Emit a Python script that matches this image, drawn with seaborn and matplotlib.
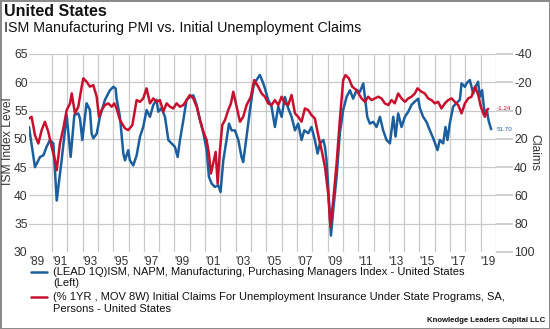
import matplotlib
matplotlib.use("Agg")
import matplotlib.pyplot as plt
from matplotlib.lines import Line2D
import pandas as pd
import seaborn as sns

# ---------------- data ----------------
ism_year = [1989.50, 1989.89, 1990.22, 1990.44, 1990.65, 1990.87, 1991.09, 1991.31, 1991.63, 1991.96,
            1992.22, 1992.46, 1992.72, 1992.83, 1992.98, 1993.26, 1993.48, 1993.59, 1993.70, 1993.92,
            1994.13, 1994.46, 1994.79, 1995.01, 1995.16, 1995.22, 1995.44, 1995.66, 1995.77, 1995.98,
            1996.09, 1996.31, 1996.53, 1996.75, 1996.96, 1997.18, 1997.40, 1997.62, 1997.83, 1997.94,
            1998.16, 1998.38, 1998.60, 1998.81, 1999.03, 1999.21, 1999.36, 1999.58, 1999.79, 2000.01,
            2000.23, 2000.45, 2000.67, 2000.89, 2001.10, 2001.25, 2001.43, 2001.64, 2001.86, 2002.01,
            2002.19, 2002.40, 2002.56, 2002.73, 2002.95, 2003.17, 2003.38, 2003.49, 2003.71, 2003.93,
            2004.15, 2004.36, 2004.58, 2004.80, 2004.91, 2005.12, 2005.34, 2005.56, 2005.78, 2006.00,
            2006.21, 2006.43, 2006.65, 2006.87, 2007.08, 2007.30, 2007.48, 2007.74, 2007.95, 2008.17,
            2008.35, 2008.50, 2008.72, 2008.83, 2008.93, 2009.04, 2009.15, 2009.22, 2009.37, 2009.59,
            2009.80, 2010.02, 2010.24, 2010.46, 2010.67, 2010.89, 2011.11, 2011.33, 2011.44, 2011.59,
            2011.76, 2011.98, 2012.20, 2012.42, 2012.63, 2012.85, 2013.07, 2013.29, 2013.44, 2013.61,
            2013.83, 2014.05, 2014.27, 2014.48, 2014.70, 2014.92, 2015.03, 2015.24, 2015.46, 2015.68,
            2015.90, 2016.18, 2016.33, 2016.55, 2016.70, 2016.83, 2016.98, 2017.20, 2017.42, 2017.64,
            2017.75, 2017.97, 2018.07, 2018.29, 2018.51, 2018.66, 2018.83, 2018.94, 2019.09, 2019.25,
            2019.40, 2019.51, 2019.68]
ism_value = [52.1, 45.0, 46.8, 47.1, 48.6, 49.8, 49.2, 39.1, 46.2, 54.2,
             46.8, 54.2, 54.5, 53.6, 49.8, 56.3, 55.1, 50.9, 50.1, 50.9,
             53.9, 56.9, 58.6, 59.2, 58.9, 57.1, 53.9, 47.4, 46.2, 48.0,
             46.2, 45.3, 47.1, 50.4, 52.1, 55.1, 53.9, 56.0, 56.9, 54.8,
             55.4, 53.9, 49.8, 49.2, 48.6, 46.8, 49.8, 53.3, 56.9, 57.4,
             57.7, 56.0, 53.3, 51.0, 48.0, 43.3, 42.1, 41.5, 41.8, 40.6,
             46.2, 49.8, 52.7, 51.5, 51.5, 49.8, 46.8, 45.9, 50.4, 55.1,
             59.2, 60.4, 61.3, 59.8, 58.9, 56.9, 55.7, 52.1, 55.7, 53.9,
             57.4, 55.4, 53.9, 51.5, 52.7, 49.8, 51.5, 51.0, 52.1, 49.8,
             47.4, 49.2, 49.8, 48.6, 46.2, 41.5, 36.2, 32.9, 37.4, 43.3,
             51.0, 55.1, 57.4, 58.6, 57.1, 58.6, 58.3, 59.8, 57.4, 53.9,
             52.7, 53.0, 52.1, 53.9, 51.5, 49.8, 49.2, 53.9, 50.4, 54.5,
             52.1, 53.9, 54.8, 56.0, 56.6, 57.1, 55.4, 53.9, 53.0, 51.5,
             50.1, 48.0, 49.8, 49.2, 52.1, 49.8, 52.7, 55.7, 56.3, 56.9,
             59.8, 59.2, 59.8, 60.4, 58.0, 59.2, 60.1, 57.4, 58.6, 54.5,
             55.1, 53.3, 51.7]

claims_year = [1989.50, 1989.67, 1989.89, 1990.11, 1990.33, 1990.54, 1990.76, 1990.98, 1991.20, 1991.31,
               1991.52, 1991.74, 1991.96, 1992.18, 1992.29, 1992.50, 1992.72, 1992.94, 1993.05, 1993.26,
               1993.48, 1993.70, 1993.92, 1994.07, 1994.24, 1994.46, 1994.68, 1994.90, 1995.07, 1995.22,
               1995.44, 1995.77, 1995.98, 1996.25, 1996.53, 1996.75, 1996.96, 1997.18, 1997.40, 1997.62,
               1997.83, 1998.05, 1998.27, 1998.49, 1998.71, 1998.92, 1999.14, 1999.36, 1999.58, 1999.79,
               2000.01, 2000.23, 2000.45, 2000.67, 2000.89, 2001.10, 2001.25, 2001.38, 2001.53, 2001.69,
               2001.82, 2001.97, 2002.12, 2002.30, 2002.51, 2002.69, 2002.84, 2003.06, 2003.28, 2003.49,
               2003.71, 2003.99, 2004.21, 2004.47, 2004.69, 2004.91, 2005.12, 2005.34, 2005.56, 2005.78,
               2006.00, 2006.21, 2006.43, 2006.65, 2006.87, 2007.08, 2007.30, 2007.52, 2007.74, 2007.95,
               2008.17, 2008.39, 2008.61, 2008.83, 2009.04, 2009.19, 2009.37, 2009.59, 2009.80, 2010.02,
               2010.17, 2010.39, 2010.61, 2010.89, 2011.22, 2011.44, 2011.65, 2011.87, 2012.09, 2012.31,
               2012.52, 2012.74, 2012.96, 2013.18, 2013.39, 2013.61, 2013.83, 2014.05, 2014.27, 2014.48,
               2014.70, 2014.87, 2015.14, 2015.35, 2015.57, 2015.79, 2016.01, 2016.22, 2016.44, 2016.66,
               2016.88, 2017.10, 2017.31, 2017.53, 2017.75, 2017.97, 2018.19, 2018.40, 2018.62, 2018.84,
               2019.01, 2019.17, 2019.28, 2019.40, 2019.49]
claims_value = [5.6, 4.4, 17.4, 23.3, 13.8, 7.9, 15.0, 25.6, 35.1, 42.2,
                23.3, 12.6, -0.3, -5.1, -12.1, 2.0, -2.7, -16.9, -22.8, -20.4,
                -16.9, -18.0, -9.8, 4.4, -0.3, -3.9, -5.1, -2.7, -5.1, -1.5,
                6.7, 12.6, 13.8, 10.3, -7.4, -6.2, -8.6, -15.7, -5.1, -8.6,
                -6.2, -7.4, 0.8, -5.1, -2.7, -1.5, -5.1, -2.7, -3.9, -7.4,
                -11.0, -8.6, -2.7, 6.7, 15.0, 20.9, 30.4, 44.5, 37.4, 29.2,
                51.6, 28.0, 10.3, 6.7, -0.3, -5.1, -13.3, -2.7, 7.9, 4.4,
                -3.9, -9.8, -21.6, -16.9, -12.1, -9.8, -5.1, -3.9, -7.4, -3.9,
                -9.8, -5.1, -3.9, -11.0, 2.0, 4.4, 7.9, -1.5, -0.3, 3.2,
                5.6, 17.4, 28.0, 39.8, 58.7, 82.3, 63.4, 37.4, 6.7, -21.6,
                -25.1, -22.8, -16.9, -14.5, -8.6, -6.2, -9.8, -7.4, -8.6, -9.8,
                -8.6, -5.1, -3.9, -7.4, -5.1, -12.1, -8.6, -6.2, -8.6, -9.8,
                -12.1, -15.7, -13.3, -12.1, -8.6, -7.4, -5.1, -6.2, -1.5, -5.1,
                -7.4, -8.6, -6.2, -3.9, 2.0, -5.1, -8.6, -9.8, -16.9, -11.0,
                -2.7, 2.0, 4.4, -0.3, -1.24]

x_tick_pos = [1990.0, 1991.5, 1993.5, 1995.5, 1997.5, 1999.5, 2001.5, 2003.5, 2005.5,
              2007.5, 2009.5, 2011.5, 2013.5, 2015.5, 2017.5, 2019.5]
x_tick_labels = ["'89", "'91", "'93", "'95", "'97", "'99", "'01", "'03", "'05",
                 "'07", "'09", "'11", "'13", "'15", "'17", "'19"]
left_ticks = [30, 35, 40, 45, 50, 55, 60, 65]
right_ticks = [-40, -20, 0, 20, 40, 60, 80, 100]

title = "United States"
subtitle = "ISM Manufacturing PMI vs. Initial Unemployment Claims"
legend_ism = ["(LEAD 1Q)ISM, NAPM, Manufacturing, Purchasing Managers Index - United States", "(Left)"]
legend_claims = ["(% 1YR , MOV 8W) Initial Claims For Unemployment Insurance Under State Programs, SA,",
                 "Persons - United States"]
credit = "Knowledge Leaders Capital LLC"

BLUE = "#1b5f9e"
RED = "#c8102e"
GRID = "#c9c9c9"
TXT = "#333333"

# ---------------- figure ----------------
sns.set_theme(style="white")
plt.rcParams['font.family'] = ['Liberation Sans', 'DejaVu Sans']

W, H = 550, 329
fig = plt.figure(figsize=(W / 100, H / 100), dpi=100, facecolor="white",
                 edgecolor="#8a8a8a", linewidth=2)

L, R, T, B = 29, 496, 54, 252
ax = fig.add_axes([L / W, 1 - B / H, (R - L) / W, (B - T) / H])
ax2 = ax.twinx()

ism_df = pd.DataFrame({"year": ism_year, "ism": ism_value})
claims_df = pd.DataFrame({"year": claims_year, "claims": claims_value})

sns.lineplot(data=ism_df, x="year", y="ism", ax=ax, color=BLUE, lw=1.8,
             estimator=None, sort=False)
sns.lineplot(data=claims_df, x="year", y="claims", ax=ax2, color=RED, lw=1.8,
             estimator=None, sort=False)

ax.set_xlim(1989.5, 2020.0)
ax.set_ylim(30, 65)
ax2.set_ylim(100, -40)

# grid
ax.set_xticks(list(range(1990, 2021)), minor=True)
ax.set_xticks(x_tick_pos)
ax.set_xticklabels(x_tick_labels, fontsize=8.5, color=TXT)
ax.grid(True, which="minor", axis="x", color=GRID, lw=0.9)
ax.grid(False, which="major", axis="x")
ax.set_yticks(left_ticks)
ax.set_yticklabels([str(v) for v in left_ticks], fontsize=8.7, color=TXT)
ax.grid(True, which="major", axis="y", color=GRID, lw=0.9)
ax.get_ygridlines()[0].set_visible(False)
ax.tick_params(axis="x", which="both", length=0, pad=3)
ax.tick_params(axis="y", which="major", length=0, pad=1, left=True)

ax2.set_yticks(right_ticks)
ax2.set_yticklabels([str(v) for v in right_ticks], fontsize=8.7, color=TXT)
ax2.tick_params(axis="y", length=12, color=GRID, pad=1, right=True)
ax2.grid(False)

for a in (ax, ax2):
    for s in a.spines.values():
        s.set_visible(False)

ax.set_xlabel("")
ax.set_ylabel("ISM Index Level", fontsize=8.7, color=TXT)
ax2.set_ylabel("Claims", fontsize=8.7, color=TXT, rotation=270)
ax.yaxis.set_label_coords(-0.033, 0.56)
ax2.yaxis.set_label_coords(1.095, 0.50)

# end-value annotations
ax2.annotate(f"{claims_value[-1]:.2f}", xy=(2020.05, claims_value[-1]), fontsize=4.5,
             color=RED, ha="left", va="center", annotation_clip=False)
ax.annotate(f"{ism_value[-1]:.2f}", xy=(2020.05, ism_value[-1]), fontsize=4.5,
            color=BLUE, ha="left", va="center", annotation_clip=False)

# titles
fig.text(4 / W, 1 - 11 / H, title, fontsize=11.5, fontweight="bold", color="#111111",
         ha="left", va="center")
fig.text(4 / W, 1 - 28 / H, subtitle, fontsize=10.3, color="#111111", ha="left", va="center")

# legend
def leg(ypx, color, lines):
    fig.add_artist(Line2D([31 / W, 47 / W], [1 - ypx / H, 1 - ypx / H], color=color, lw=1.8))
    for i, s in enumerate(lines):
        fig.text(53 / W, 1 - (ypx + i * 11.5) / H, s, fontsize=8, color="#111111",
                 ha="left", va="center")

leg(272, BLUE, legend_ism)
leg(297, RED, legend_claims)

fig.text(545 / W, 1 - 321 / H, credit, fontsize=5.6, fontweight="bold", color="#111111",
         ha="right", va="center")

fig.savefig("out.png", dpi=100, facecolor="white", edgecolor="#8a8a8a")
